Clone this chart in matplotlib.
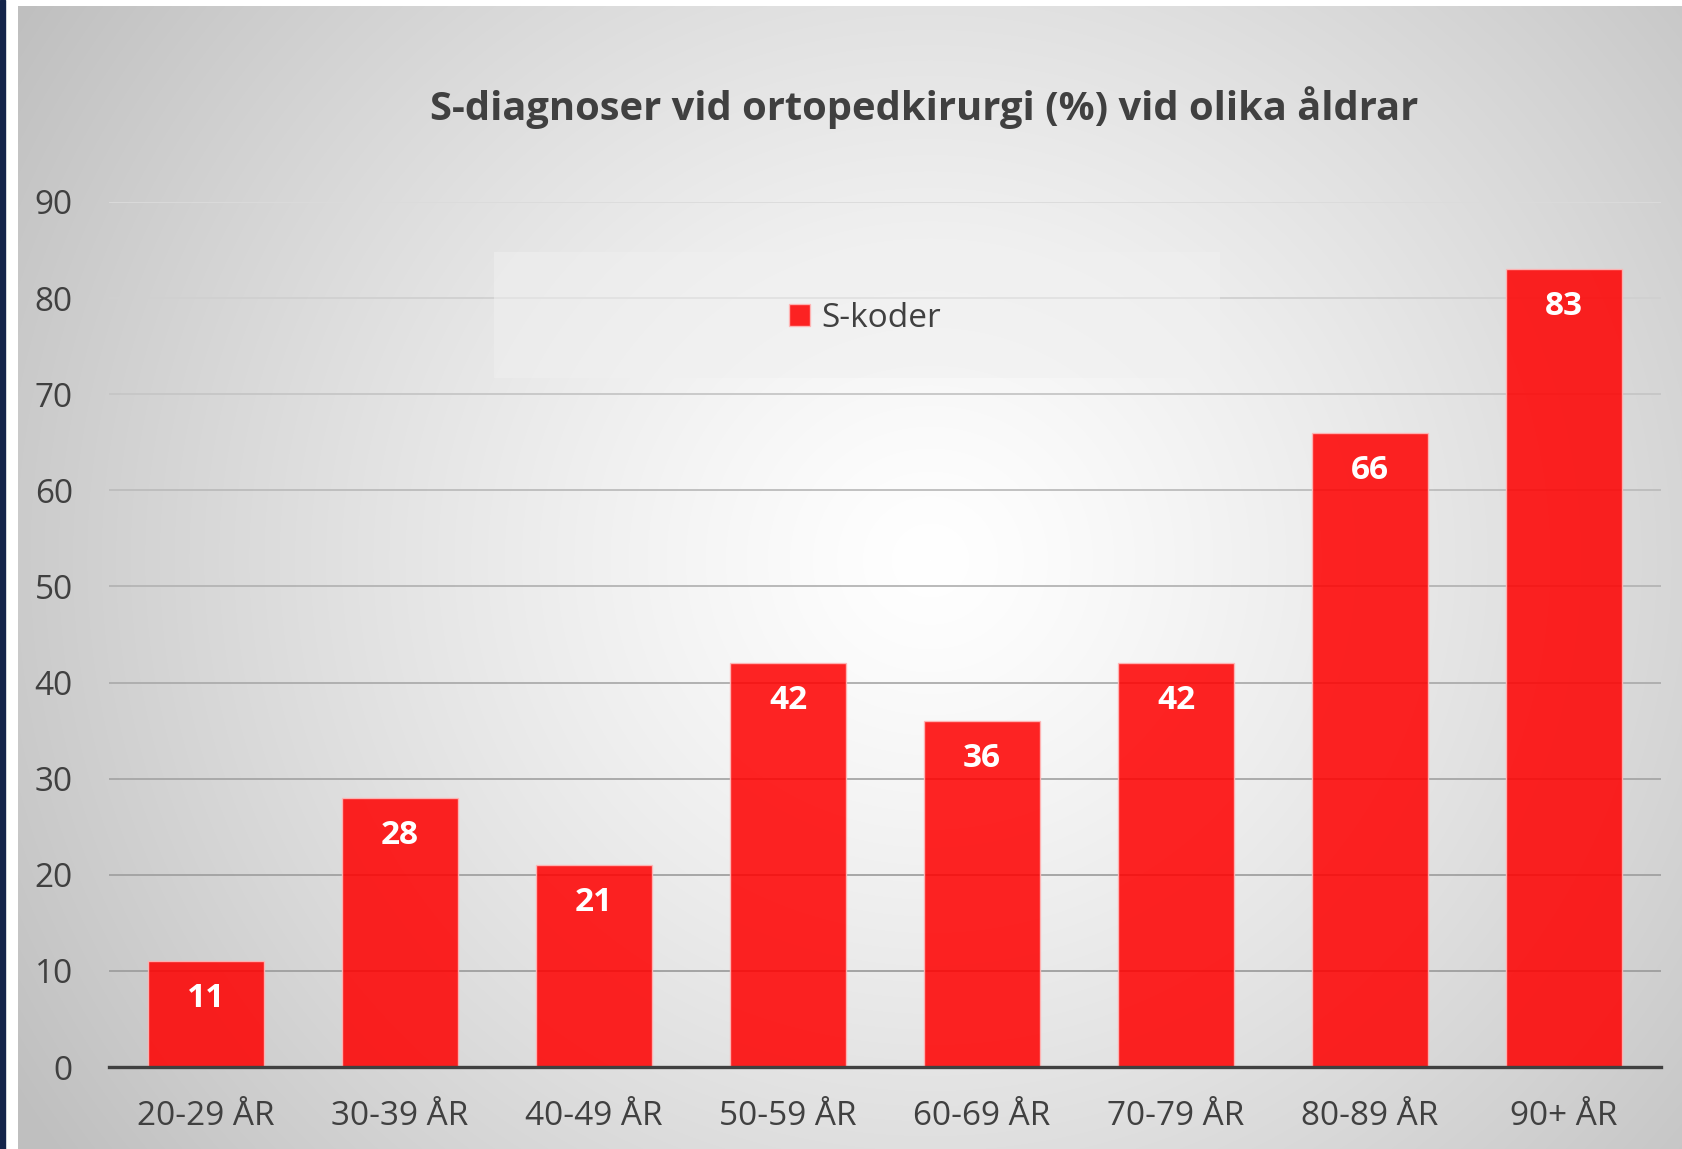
import numpy as np
import matplotlib
matplotlib.use('Agg')
import matplotlib.pyplot as plt
from matplotlib.patches import Rectangle

plt.rcParams['font.family'] = ['Open Sans', 'DejaVu Sans']

# data
categories = ['20-29 ÅR', '30-39 ÅR', '40-49 ÅR', '50-59 ÅR',
              '60-69 ÅR', '70-79 ÅR', '80-89 ÅR', '90+ ÅR']
s_koder = [11, 28, 21, 42, 36, 42, 66, 83]
y_ticks = [0, 10, 20, 30, 40, 50, 60, 70, 80, 90]
title = 'S-diagnoser vid ortopedkirurgi (%) vid olika åldrar'
series_name = 'S-koder'

W, H = 1683, 1149
TXT = '#404040'

fig = plt.figure(figsize=(W / 100, H / 100), dpi=100, facecolor='white')

# dark stripe at the far left (slide edge)
fig.patches.append(Rectangle((0, 0), 5 / W, 1, transform=fig.transFigure,
                             color='#14244a', zorder=0))

# chart area with radial grey -> white gradient
bg = fig.add_axes([18 / W, 0, 1 - 18 / W, 1 - 6 / H], zorder=-10)
gx, gy = np.meshgrid(np.arange(18, W), np.arange(6, H))
r = np.hypot(gx - 930, (gy - 560) * 1.05)
shade = np.clip(1 - 0.2 * (r / 900) ** 1.25, 0.75, 1)
bg.imshow(np.dstack([shade] * 3), aspect='auto', interpolation='bilinear')
bg.set_axis_off()

ax = fig.add_axes([109 / W, 1 - 1067 / H, (1661 - 109) / W, (1067 - 202) / H])
ax.set_facecolor('none')

x = np.arange(len(categories))

# gridlines, fainter toward the top like the original
for i, t in enumerate(y_ticks[1:]):
  g = 0.62 + 0.24 * (i / (len(y_ticks) - 2)) ** 1.5
  ax.axhline(t, color=(g, g, g), lw=1.3, zorder=0)

bars = ax.bar(x, s_koder, width=0.603, color=(1, 0, 0, 0.86),
              edgecolor=(1, 0.72, 0.72, 0.9), lw=1.0, zorder=2,
              label=series_name)

for xi, v in zip(x, s_koder):
  ax.annotate(str(v), (xi, v), xytext=(0, -33), textcoords='offset points',
              ha='center', va='baseline', color='white', fontsize=24,
              fontweight='bold', zorder=3)

ax.set_xlim(-0.5, len(categories) - 0.5)
ax.set_ylim(0, 90)
ax.set_yticks(y_ticks)
ax.set_xticks(x)
ax.set_xticklabels(categories)
ax.tick_params(axis='both', length=0, labelsize=24, labelcolor=TXT)
ax.tick_params(axis='y', pad=26)
ax.tick_params(axis='x', pad=24)
for s in ['top', 'right', 'left']:
  ax.spines[s].set_visible(False)
ax.spines['bottom'].set_color(TXT)
ax.spines['bottom'].set_linewidth(2.4)
ax.spines['bottom'].set_zorder(4)

# legend box (behind the legend itself)
ax.add_patch(Rectangle((494 / W, 1 - 378 / H), (1220 - 494) / W, (378 - 252) / H,
                       transform=fig.transFigure, facecolor='#f0f0f0',
                       alpha=0.55, edgecolor='none', zorder=1, clip_on=False))
leg = ax.legend(loc='center', bbox_to_anchor=(865 / W, 1 - 318 / H),
                bbox_transform=fig.transFigure, frameon=False, fontsize=24,
                labelcolor=TXT, handlelength=0.62, handleheight=0.62,
                handletextpad=0.35)
leg.set_zorder(5)

fig.text(924 / W, 1 - 120 / H, title, ha='center', va='baseline',
         fontsize=28.7, fontweight='bold', color=TXT)

fig.savefig('out.png', dpi=100, facecolor='white')
